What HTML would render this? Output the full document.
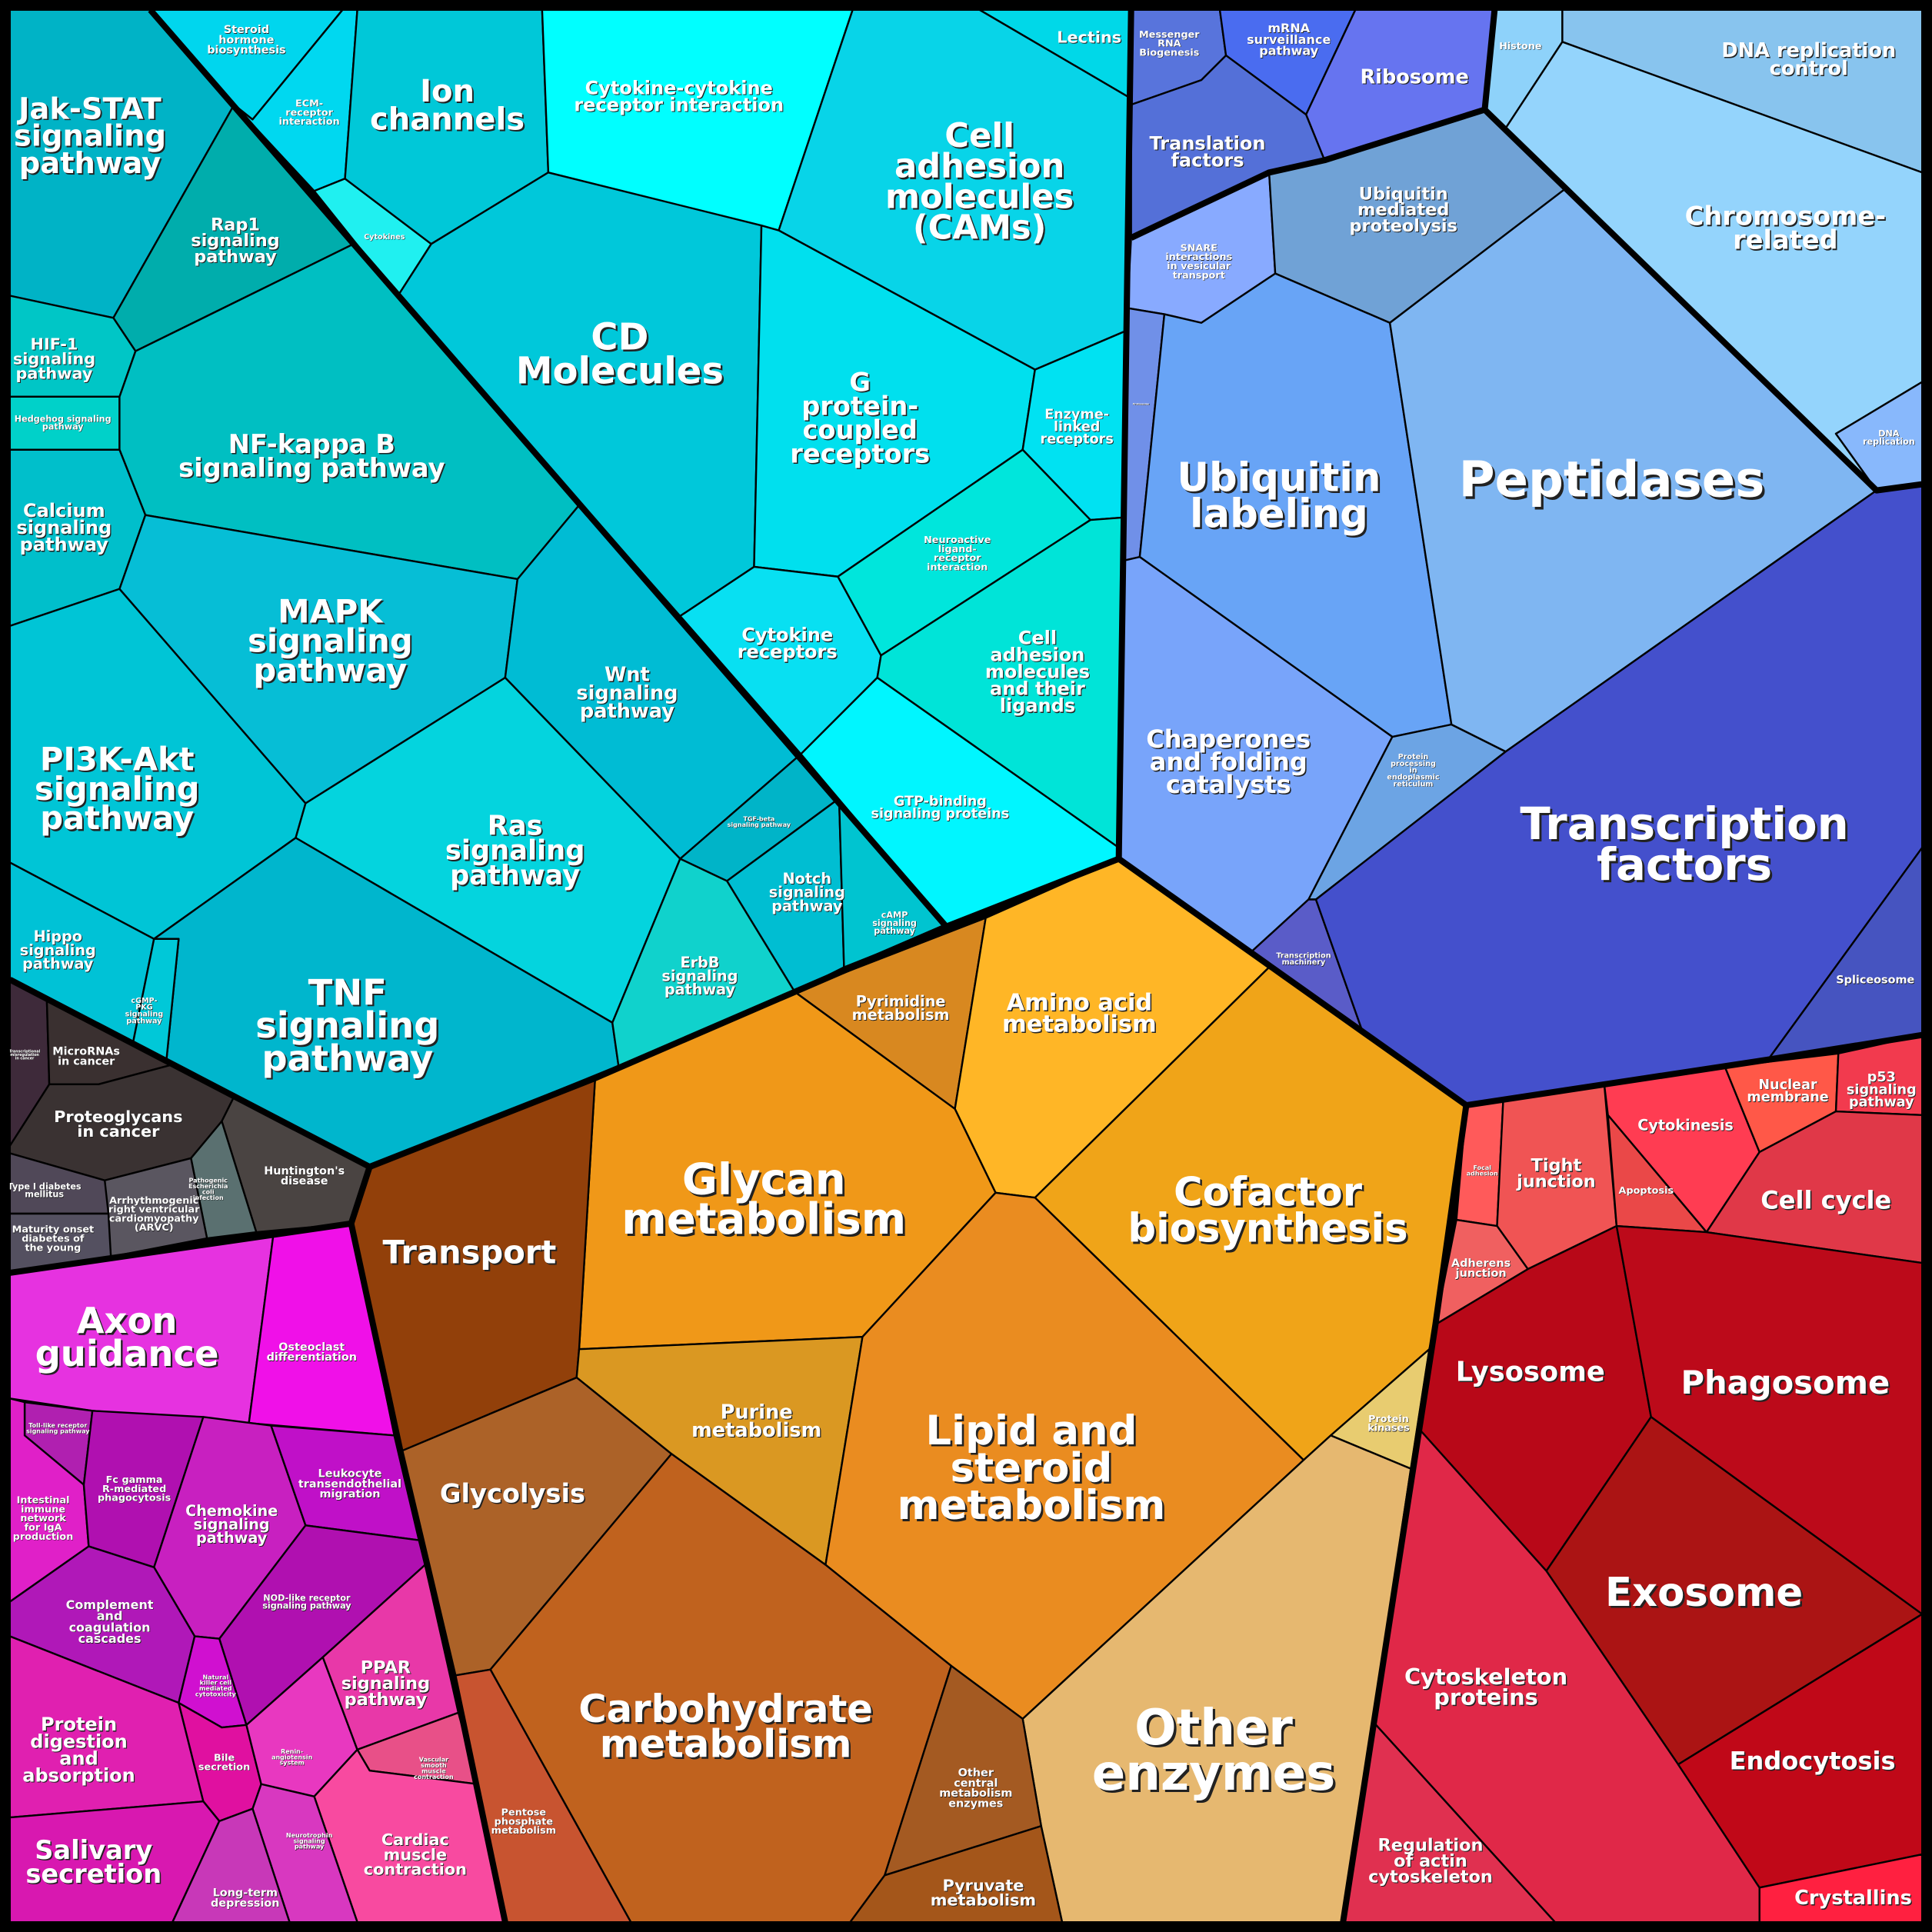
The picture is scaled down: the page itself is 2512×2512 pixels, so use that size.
<!DOCTYPE html>
<html><head><meta charset="utf-8"><style>
html,body{margin:0;padding:0;background:#000;}
svg{display:block;}
text{font-family:"DejaVu Sans","Liberation Sans",sans-serif;font-weight:bold;text-anchor:middle;}
</style></head><body>
<svg id="chart" width="2512" height="2512" viewBox="0 0 1568 1568" xmlns="http://www.w3.org/2000/svg">
<rect x="0" y="0" width="1568" height="1568" fill="#000"/>
<g id="cells"></g>
<g id="thick"></g>
<g id="labels"></g>
<rect x="4" y="4" width="1560" height="1560" fill="none" stroke="#000" stroke-width="8"/>
</svg>
<script>
const cellNames = ["jak-stat","rap1","hif-1","hedgehog","nf-kappa-b","calcium","mapk","wnt","pi3k-akt","ras","tnf","hippo","cgmp-pkg","tgf-beta","notch","camp","erbb",
"steroid","ecm","cytokines","ion-channels","cytokine-cytokine","lectins","cams","cd-molecules","gpcr","enzyme-linked","neuroactive","cytokine-receptors","cam-ligands","gtp-binding",
"mrna-biogenesis","mrna-surveillance","ribosome","translation-factors","snare","ubiquitin-proteolysis","proteasome","ubiquitin-labeling","chaperones","protein-processing-er","transcription-machinery","peptidases","transcription-factors","spliceosome","histone","dna-replication-control","chromosome-related","dna-replication",
"focal-adhesion","tight-junction","adherens","cytokinesis","apoptosis","nuclear-membrane","p53","cell-cycle","lysosome","phagosome","exosome","cytoskeleton","regulation-actin","endocytosis","crystallins",
"pyrimidine","amino-acid","cofactor","glycan","transport","purine","lipid","protein-kinases","other-enzymes","glycolysis","carbohydrate","pentose","other-central","pyruvate",
"transcriptional-misregulation","micrornas","proteoglycans","huntington","pathogenic-ecoli","arrhythmogenic","type-i-diabetes","mody",
"axon-guidance","osteoclast","toll-like","intestinal-iga","fc-gamma","chemokine","leukocyte","nod-like","complement","natural-killer","protein-digestion","bile","salivary","renin","ppar","vascular","cardiac","neurotrophin","long-term-depression"];
const cellColors = ["#00b3c6","#00adac","#00c6c6","#00d1c9","#00bfc2","#00bfcb","#06bed6","#00bcd4","#00c5d6","#04d4de","#00b6cd","#00c2d6","#00c8d8","#00b4c8","#00bed2","#00c4d0","#10d2cc",
"#00d6ee","#00d8f0","#20f0f0","#00c8d8","#00ffff","#00d8e8","#08d4e8","#00c8da","#00e0ee","#00e2f2","#00e6dc","#08e0f2","#00e4d8","#00f6ff",
"#5874dc","#4a6cf0","#6674f0","#5470d8","#88aaff","#70a2d6","#7090e8","#68a4f6","#78a4fa","#6ca4e4","#5a5cc8","#7fb6f2","#4450cc","#4654c0","#8ed2fa","#88c4ee","#94d4fc","#88b8fc",
"#ff5a5a","#f05454","#f06060","#ff3c52","#ea4848","#ff5848","#f23a4e","#e03848","#b80818","#bc0a1a","#ab1414","#e02848","#e03050","#c00818","#ff2040",
"#d88820","#ffb626","#f0a418","#f09818","#92400a","#da9822","#ea8c20","#e8cc70","#e6b870","#ac6228","#c0621e","#c85430","#a45a22","#a4561a",
"#3e2a3a","#3a3030","#3a3232","#4a4442","#5a7070","#5a5660","#504858","#545060",
"#e632e0","#f010e8","#b020b0","#e020c8","#b010b0","#c820c0","#c010c8","#b010b0","#b018b8","#d010d0","#e020b0","#e010a0","#d818b0","#e838c0","#e838a8","#e85088","#f84aa0","#d838c0","#c838b8"];
const cellPolys = [
[[8,8],[122,8],[190,85],[92,258],[8,240]],
[[190,85],[287,198],[110,285],[92,258]],
[[8,240],[92,258],[110,285],[97,322],[8,322]],
[[8,322],[97,322],[97,365],[8,365]],
[[110,285],[287,198],[470,410],[420,470],[118,418],[97,365],[97,322]],
[[8,365],[97,365],[118,418],[97,478],[8,508]],
[[118,418],[420,470],[410,550],[248,652],[97,478]],
[[420,470],[470,410],[650,612],[552,697],[410,550]],
[[8,508],[97,478],[248,652],[240,680],[125,762],[8,700]],
[[248,652],[410,550],[552,697],[497,830],[240,680]],
[[240,680],[497,830],[502,865],[300,947],[135,861],[145,762],[125,762]],
[[8,700],[125,762],[108,846],[8,795]],
[[125,762],[145,762],[135,861],[108,846]],
[[552,697],[650,612],[681,648],[590,715]],
[[590,715],[681,648],[685,785],[645,805]],
[[681,648],[768,752],[685,785]],
[[552,697],[590,715],[645,805],[502,865],[497,830]],
[[122,8],[278,8],[205,97],[190,85]],
[[190,85],[205,97],[278,8],[290,8],[280,145],[255,155]],
[[255,155],[280,145],[350,198],[323,240]],
[[290,8],[440,8],[445,140],[350,198],[280,145]],
[[440,8],[692,8],[632,187],[445,140]],
[[795,8],[918,8],[918,80]],
[[692,8],[795,8],[918,80],[915,268],[840,300],[632,187]],
[[323,240],[350,198],[445,140],[618,183],[612,460],[552,500]],
[[618,183],[632,187],[840,300],[830,365],[680,468],[612,460]],
[[840,300],[915,268],[912,420],[885,422],[830,365]],
[[680,468],[830,365],[885,422],[715,532]],
[[552,500],[612,460],[680,468],[715,532],[712,550],[650,612]],
[[715,532],[885,422],[912,420],[908,688],[712,550]],
[[650,612],[712,550],[908,688],[908,697],[768,752]],
[[918,8],[990,8],[995,45],[975,65],[918,85]],
[[990,8],[1100,8],[1060,93],[995,45]],
[[1100,8],[1213,8],[1205,89],[1075,130],[1060,93]],
[[918,85],[975,65],[995,45],[1060,93],[1075,130],[1030,140],[918,193]],
[[918,193],[1030,140],[1035,222],[975,262],[945,255],[915,250]],
[[1030,140],[1075,130],[1205,89],[1272,152],[1128,262],[1035,222]],
[[915,250],[945,255],[925,452],[912,455]],
[[945,255],[975,262],[1035,222],[1128,262],[1178,588],[1130,598],[925,452]],
[[925,452],[1130,598],[1062,730],[1015,773],[908,697],[912,455]],
[[1130,598],[1178,588],[1222,610],[1068,730],[1062,730]],
[[1015,773],[1062,730],[1068,730],[1105,835]],
[[1128,262],[1272,152],[1523,398],[1222,610],[1178,588]],
[[1222,610],[1523,398],[1560,385],[1560,688],[1435,860],[1190,897],[1105,835],[1068,730]],
[[1435,860],[1560,688],[1560,840]],
[[1213,8],[1268,8],[1268,34],[1222,104],[1205,89]],
[[1268,8],[1560,8],[1560,140],[1268,34]],
[[1222,104],[1268,34],[1560,140],[1560,310],[1490,352],[1523,398],[1205,89]],
[[1490,352],[1560,310],[1560,393],[1523,398]],
[[1190,897],[1220,893],[1215,995],[1182,990]],
[[1220,893],[1302,880],[1312,995],[1240,1030],[1215,995]],
[[1182,990],[1215,995],[1240,1030],[1165,1075]],
[[1302,880],[1400,866],[1428,935],[1385,1000],[1305,905]],
[[1305,905],[1385,1000],[1312,995]],
[[1400,866],[1492,855],[1490,902],[1428,935]],
[[1492,855],[1560,840],[1560,905],[1490,902]],
[[1428,935],[1490,902],[1560,905],[1560,1025],[1385,1000]],
[[1165,1075],[1240,1030],[1312,995],[1340,1150],[1255,1275],[1152,1160]],
[[1312,995],[1385,1000],[1560,1025],[1560,1310],[1340,1150]],
[[1255,1275],[1340,1150],[1560,1310],[1362,1432]],
[[1152,1160],[1255,1275],[1362,1432],[1428,1532],[1428,1560],[1262,1560],[1115,1398]],
[[1115,1398],[1262,1560],[1090,1560]],
[[1362,1432],[1560,1310],[1560,1505],[1428,1532]],
[[1428,1532],[1560,1505],[1560,1560],[1428,1560]],
[[645,805],[800,745],[775,900]],
[[800,745],[908,697],[1030,785],[840,972],[808,968],[775,900]],
[[1030,785],[1190,897],[1165,1075],[1160,1095],[1080,1165],[1058,1185],[840,972]],
[[483,875],[645,805],[775,900],[808,968],[700,1085],[470,1095]],
[[300,947],[483,875],[470,1095],[468,1118],[325,1178],[285,993]],
[[470,1095],[700,1085],[670,1270],[545,1180],[468,1118]],
[[700,1085],[808,968],[840,972],[1058,1185],[830,1395],[772,1352],[670,1270]],
[[1080,1165],[1160,1095],[1145,1192]],
[[830,1395],[1058,1185],[1080,1165],[1145,1192],[1090,1560],[862,1560],[845,1482]],
[[325,1178],[468,1118],[545,1180],[398,1355],[368,1360]],
[[398,1355],[545,1180],[670,1270],[772,1352],[718,1522],[690,1560],[512,1560]],
[[368,1360],[398,1355],[512,1560],[410,1560]],
[[772,1352],[830,1395],[845,1482],[718,1522]],
[[718,1522],[845,1482],[862,1560],[690,1560]],
[[8,795],[38,811],[40,880],[8,930]],
[[38,811],[135,861],[140,864],[80,880],[40,880]],
[[8,930],[40,880],[80,880],[140,864],[190,890],[180,910],[155,940],[85,958],[8,936]],
[[190,890],[300,947],[285,993],[208,1000],[180,910]],
[[155,940],[180,910],[208,1000],[168,1005]],
[[85,958],[155,940],[168,1005],[90,1020]],
[[8,936],[85,958],[88,985],[8,985]],
[[8,985],[88,985],[90,1020],[8,1033]],
[[8,1033],[222,1001],[202,1155],[75,1145],[8,1135]],
[[222,1001],[285,993],[320,1165],[202,1155]],
[[20,1138],[75,1145],[68,1205],[20,1165]],
[[8,1135],[20,1138],[20,1165],[68,1205],[72,1255],[8,1300]],
[[75,1145],[165,1150],[125,1272],[72,1255],[68,1205]],
[[165,1150],[220,1157],[248,1238],[178,1330],[158,1328],[125,1272]],
[[220,1157],[320,1165],[340,1250],[248,1238]],
[[248,1238],[340,1250],[345,1270],[262,1345],[200,1400],[178,1330]],
[[8,1300],[72,1255],[125,1272],[158,1328],[145,1382],[8,1328]],
[[158,1328],[178,1330],[200,1400],[180,1402],[145,1382]],
[[8,1328],[145,1382],[165,1462],[8,1475]],
[[145,1382],[180,1402],[200,1400],[212,1448],[205,1468],[178,1478],[165,1462]],
[[8,1475],[165,1462],[178,1478],[140,1560],[8,1560]],
[[200,1400],[262,1345],[290,1420],[255,1458],[212,1448]],
[[262,1345],[345,1270],[372,1390],[290,1420]],
[[290,1420],[372,1390],[388,1448],[300,1437]],
[[255,1458],[290,1420],[300,1437],[388,1448],[410,1560],[290,1560]],
[[212,1448],[255,1458],[290,1560],[235,1560],[205,1468]],
[[178,1478],[205,1468],[235,1560],[140,1560]]
];
const groupBorders = [
[[122,8],[768,752]],
[[918,8],[908,697],[1190,897],[1435,860],[1560,840]],
[[908,697],[768,752],[645,805],[483,875],[300,947],[8,795]],
[[300,947],[285,993],[8,1033]],
[[285,993],[325,1178],[368,1360],[410,1560]],
[[1190,897],[1165,1075],[1090,1560]],
[[1213,8],[1205,89],[1523,398],[1560,393]],
[[1205,89],[1075,130],[1030,140],[918,193]]
];
const labelTexts = [
"Jak-STAT|signaling|pathway","Rap1|signaling|pathway","HIF-1|signaling|pathway","Hedgehog signaling|pathway","NF-kappa B|signaling pathway","Calcium|signaling|pathway","MAPK|signaling|pathway","Wnt|signaling|pathway","PI3K-Akt|signaling|pathway","Ras|signaling|pathway","TNF|signaling|pathway","Hippo|signaling|pathway","cGMP-|PKG|signaling|pathway","TGF-beta|signaling pathway","Notch|signaling|pathway","cAMP|signaling|pathway","ErbB|signaling|pathway",
"Steroid|hormone|biosynthesis","ECM-|receptor|interaction","Cytokines","Ion|channels","Cytokine-cytokine|receptor interaction","Lectins","Cell|adhesion|molecules|(CAMs)","CD|Molecules","G|protein-|coupled|receptors","Enzyme-|linked|receptors","Neuroactive|ligand-|receptor|interaction","Cytokine|receptors","Cell|adhesion|molecules|and their|ligands","GTP-binding|signaling proteins",
"Messenger|RNA|Biogenesis","mRNA|surveillance|pathway","Ribosome","Translation|factors","SNARE|interactions|in vesicular|transport","Ubiquitin|mediated|proteolysis","Proteasome","Ubiquitin|labeling","Chaperones|and folding|catalysts","Protein|processing|in|endoplasmic|reticulum","Transcription|machinery","Peptidases","Transcription|factors","Spliceosome","Histone","DNA replication|control","Chromosome-|related","DNA|replication",
"Focal|adhesion","Tight|junction","Adherens|junction","Cytokinesis","Apoptosis","Nuclear|membrane","p53|signaling|pathway","Cell cycle","Lysosome","Phagosome","Exosome","Cytoskeleton|proteins","Regulation|of actin|cytoskeleton","Endocytosis","Crystallins",
"Pyrimidine|metabolism","Amino acid|metabolism","Cofactor|biosynthesis","Glycan|metabolism","Transport","Purine|metabolism","Lipid and|steroid|metabolism","Protein|kinases","Other|enzymes","Glycolysis","Carbohydrate|metabolism","Pentose|phosphate|metabolism","Other|central|metabolism|enzymes","Pyruvate|metabolism",
"Transcriptional|misregulation|in cancer","MicroRNAs|in cancer","Proteoglycans|in cancer","Huntington's|disease","Pathogenic|Escherichia|coli|infection","Arrhythmogenic|right ventricular|cardiomyopathy|(ARVC)","Type I diabetes|mellitus","Maturity onset|diabetes of|the young",
"Axon|guidance","Osteoclast|differentiation","Toll-like receptor|signaling pathway","Intestinal|immune|network|for IgA|production","Fc gamma|R-mediated|phagocytosis","Chemokine|signaling|pathway","Leukocyte|transendothelial|migration","NOD-like receptor|signaling pathway","Complement|and|coagulation|cascades","Natural|killer cell|mediated|cytotoxicity","Protein|digestion|and|absorption","Bile|secretion","Salivary|secretion","Renin-|angiotensin|system","PPAR|signaling|pathway","Vascular|smooth|muscle|contraction","Cardiac|muscle|contraction","Neurotrophin|signaling|pathway","Long-term|depression"];
const labelX = [73,191,44,51,253,52,268,509,95,418,282,47,117,616,655,726,568,
200,251,312,363,551,884,795,503,698,874,777,639,842,763,
949,1046,1148,980,973,1139,926,1038,997,1147,1058,1308,1367,1522,1234,1468,1449,1533,
1203,1263,1202,1368,1336,1451,1527,1482,1242,1449,1383,1206,1161,1471,1504,
731,876,1029,620,381,614,837,1127,985,416,589,425,792,798,
20,70,96,247,169,125,36,43,
103,253,47,35,109,188,284,249,89,175,64,182,76,237,313,352,337,251,199];
const labelY = [110,195,291,343,370,428,520,562,640,690,832,771,820,667,724,749,792,
32,91,192,85,78,30,147,287,339,346,449,522,545,655,
35,32,62,123,212,170,328,402,618,625,778,389,685,795,37,48,185,355,
950,952,1029,913,966,885,884,974,1113,1122,1292,1369,1510,1429,1540,
818,822,982,973,1016,1153,1191,1155,1420,1212,1401,1478,1451,1536,
856,857,912,954,965,985,966,1005,
1085,1097,1159,1232,1208,1237,1204,1300,1316,1368,1420,1430,1511,1426,1366,1435,1505,1494,1540];
const labelSizes = [24,14,13,7,21,15,26,16,26,22,29,12,6,5,12,7,12,
9,8,6,25,15,13,27,30,21,11,8,15,15,11,
8,10,16,15,8,14,2,32,20,6,6,40,36,9,8,16,21,7,
5,14,9,12,8,11,11,20,22,26,32,18,14,20,16,
12,19,32,35,26,16,33,8,40,21,31,8,9,13,
3,9,13,9,5,8,7,8,29,9,5,8,8,12,9,7,10,5,15,8,21,5,14,5,13,5,9];
const svgNS = "http://www.w3.org/2000/svg";
const cellsG = document.getElementById('cells');
const thickG = document.getElementById('thick');
const labelsG = document.getElementById('labels');
function ptsStr(p){return p.map(q=>q[0]+','+q[1]).join(' ');}
for(let i=0;i<cellPolys.length;i++){
  const el=document.createElementNS(svgNS,'polygon');
  el.setAttribute('points',ptsStr(cellPolys[i]));
  el.setAttribute('fill',cellColors[i]);
  el.setAttribute('stroke','#000');
  el.setAttribute('stroke-width','1.5');
  el.setAttribute('stroke-linejoin','round');
  
  
  cellsG.appendChild(el);
}
for(let i=0;i<groupBorders.length;i++){
  const el=document.createElementNS(svgNS,'polyline');
  el.setAttribute('points',ptsStr(groupBorders[i]));
  el.setAttribute('fill','none');
  el.setAttribute('stroke','#000');
  el.setAttribute('stroke-width','5');
  el.setAttribute('stroke-linejoin','round');
  
  
  thickG.appendChild(el);
}
for(let i=0;i<labelTexts.length;i++){
  const lines=labelTexts[i].split('|');
  const fs=labelSizes[i];
  const lh=fs*0.92;
  const y0=labelY[i]-(lines.length-1)*lh/2+fs*0.35;
  const g=document.createElementNS(svgNS,'g');
  
  
  const off=Math.max(0.4,fs*0.05);
  ['#222','#fff'].forEach((c,k)=>{
    const t=document.createElementNS(svgNS,'text');
    t.setAttribute('x',labelX[i]+(k?0:off));
    t.setAttribute('y',y0+(k?0:off));
    t.setAttribute('font-size',fs);
    t.setAttribute('fill',c);
    lines.forEach((ln,j)=>{
      const s=document.createElementNS(svgNS,'tspan');
      s.setAttribute('x',labelX[i]+(k?0:off));
      s.setAttribute('y',y0+j*lh+(k?0:off));
      s.textContent=ln;
      t.appendChild(s);
    });
    g.appendChild(t);
  });
  labelsG.appendChild(g);
}
</script>
</body></html>
